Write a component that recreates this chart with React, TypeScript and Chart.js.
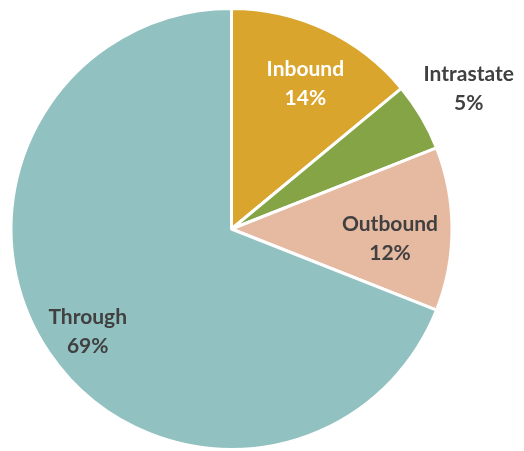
import React, { useEffect, useRef } from "react";
import { Chart, registerables } from "chart.js";

Chart.register(...registerables);

const categories = ["Inbound", "Intrastate", "Outbound", "Through"];
const values = [14, 5, 12, 69];
const percentLabels = ["14%", "5%", "12%", "69%"];
const colors = ["#DAA52C", "#84A446", "#E6B9A1", "#91C1C0"];
const labelColors = ["#FFFFFF", "#404040", "#404040", "#404040"];
const labelRadius = [0.74, 1.25, 0.72, 0.8];
const labelAngleShift = [1.7, 0, 3.4, -1.2];

const labelPlugin = {
  id: "sliceLabels",
  afterDatasetsDraw(chart: any) {
    const ctx = chart.ctx;
    const meta = chart.getDatasetMeta(0);
    ctx.save();
    ctx.font = "bold 21px Lato";
    ctx.textAlign = "center";
    ctx.textBaseline = "middle";
    meta.data.forEach((arc: any, i: number) => {
      const mid = (arc.startAngle + arc.endAngle) / 2 + (labelAngleShift[i] * Math.PI) / 180;
      const r = arc.outerRadius * labelRadius[i];
      const x = arc.x + Math.cos(mid) * r;
      const y = arc.y + Math.sin(mid) * r;
      ctx.fillStyle = labelColors[i];
      ctx.fillText(categories[i], x, y - 14);
      ctx.fillText(percentLabels[i], x, y + 15);
    });
    ctx.restore();
  },
};

export default function App() {
  const ref = useRef<HTMLCanvasElement>(null);
  useEffect(() => {
    const chart = new Chart(ref.current!, {
      type: "pie",
      data: {
        labels: categories,
        datasets: [
          {
            data: values,
            backgroundColor: colors,
            borderColor: "#FFFFFF",
            borderWidth: 3,
          },
        ],
      },
      options: {
        animation: false,
        responsive: false,
        layout: { padding: { left: 8, right: 69, top: 7, bottom: -3 } },
        plugins: { legend: { display: false }, tooltip: { enabled: false } },
      },
      plugins: [labelPlugin],
    });
    return () => chart.destroy();
  }, []);
  return (
    <div style={{ position: "fixed", left: 0, top: 0, width: 524, height: 451, background: "#fff" }}>
      <canvas ref={ref} width={524} height={451} />
    </div>
  );
}
